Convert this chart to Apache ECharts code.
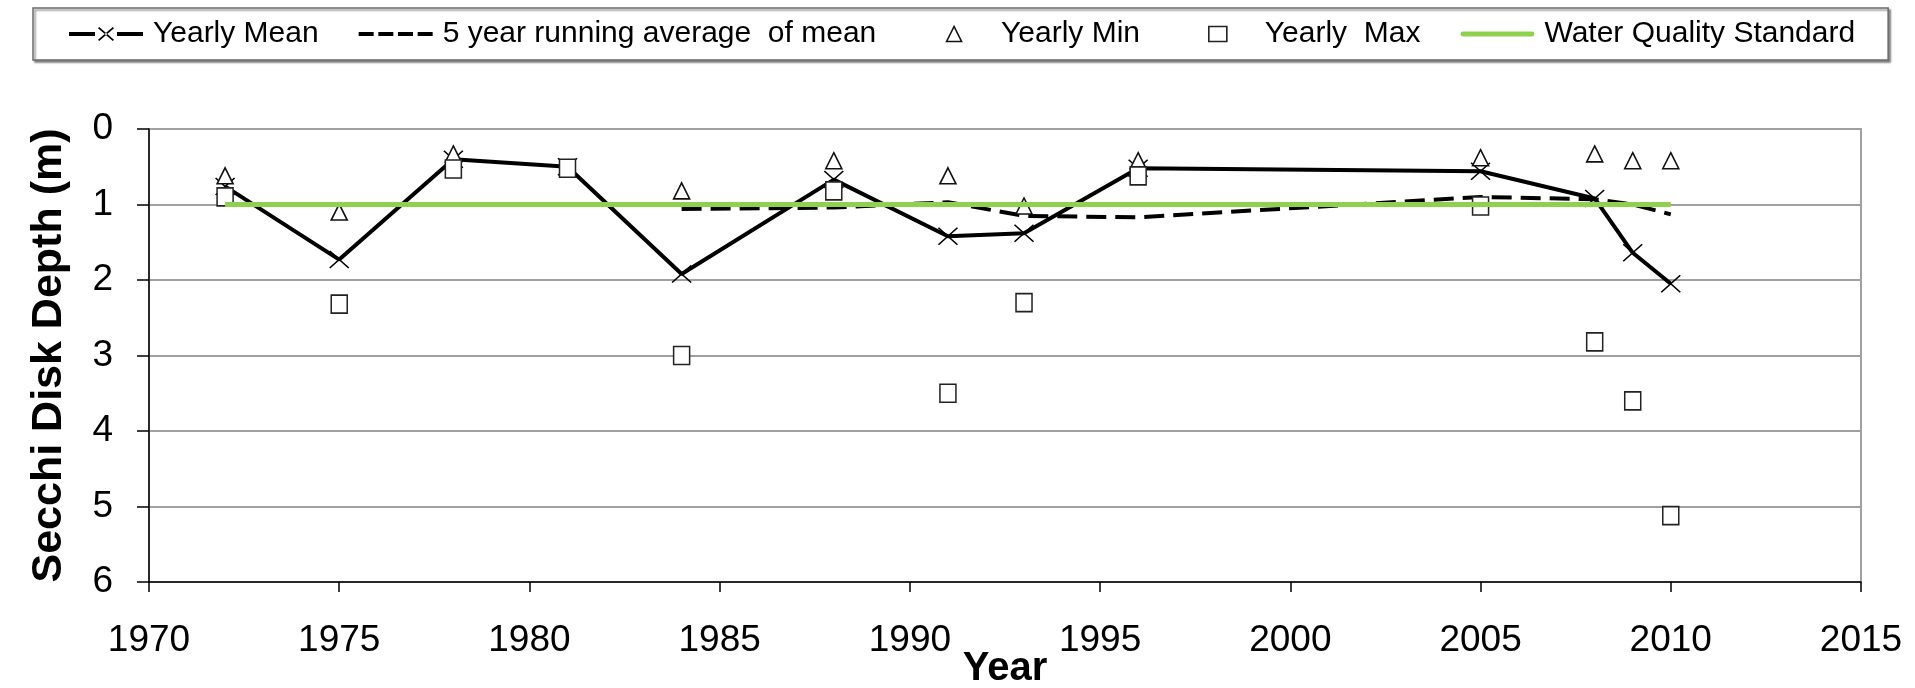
<!DOCTYPE html>
<html>
<head>
<meta charset="utf-8">
<script src="https://cdn.jsdelivr.net/npm/echarts@6/dist/echarts.min.js"></script>
<style>
html,body{margin:0;padding:0;background:#fff;}
#chart{width:1915px;height:688px;}
</style>
</head>
<body>
<div id="chart"></div>
<script>
// ---- data ----
const years = [1972, 1975, 1978, 1981, 1984, 1988, 1991, 1993, 1996, 2005, 2008, 2009, 2010];
const yearlyMean = [0.76, 1.73, 0.40, 0.50, 1.92, 0.67, 1.42, 1.38, 0.52, 0.56, 0.92, 1.64, 2.05];
const yearlyMin  = [0.62, 1.10, 0.33, null, 0.82, 0.42, 0.62, 1.02, 0.42, 0.38, 0.33, 0.42, 0.42];
const yearlyMax  = [0.90, 2.32, 0.53, 0.52, 3.00, 0.82, 3.50, 2.30, 0.62, 1.02, 2.82, 3.60, 5.12];
const runYears   = [1984, 1988, 1991, 1993, 1996, 2005, 2008, 2009, 2010];
const runAvg     = [1.06, 1.04, 0.97, 1.15, 1.17, 0.90, 0.93, 1.00, 1.13];
const stdYears   = [1972, 2010];
const stdValue   = [1, 1];
const seriesNames = ['Yearly Mean', '5 year running average  of mean', 'Yearly Min', 'Yearly  Max', 'Water Quality Standard'];
const xTicks = { min: 1970, max: 2015, step: 5 };
const yTicks = { min: 0, max: 6, step: 1 };

const pair = (xs, ys) => xs.map((x, i) => [x, ys[i]]).filter(p => p[1] !== null);

const FONT = "'Liberation Sans', Arial, sans-serif";

// legend icon shapes, each spanning a 74 x 16 box
const ICON_MEAN = 'path://M0,6H26V10H0Z M48,6H74V10H48Z M29,2.2L30.2,1L45,13.8L43.8,15Z M45,2.2L43.8,1L29,13.8L30.2,15Z M0,0L0,0 M74,16L74,16';
const ICON_DASH = 'path://M0,6H15V10H0Z M19.7,6H34.7V10H19.7Z M39.3,6H54.3V10H39.3Z M59,6H74V10H59Z M0,0L0,0 M74,16L74,16';
const ICON_MIN  = 'path://M29.5,15.5L37,0.5L44.5,15.5Z M0,0L0,0 M74,16L74,16';
const ICON_MAX  = 'path://M28,0.5H46V15.5H28Z M0,0L0,0 M74,16L74,16';
const ICON_STD  = 'path://M2,5.5H72A2.5,2.5 0 0 1 72,10.5H2A2.5,2.5 0 0 1 2,5.5Z M0,0L0,0 M74,16L74,16';

const chart = echarts.init(document.getElementById('chart'), null, { renderer: 'canvas' });

chart.setOption({
  animation: false,
  backgroundColor: '#fff',
  textStyle: { fontFamily: FONT, color: '#000' },
  legend: {
    left: 33, top: 8,
    padding: [11, 33, 11, 36],
    itemWidth: 74, itemHeight: 16, itemGap: 40,
    backgroundColor: '#fff',
    borderColor: '#6b6b6b', borderWidth: 1.5,
    shadowColor: 'rgba(0,0,0,0.45)', shadowOffsetX: 2, shadowOffsetY: 2, shadowBlur: 2,
    textStyle: { fontFamily: FONT, fontSize: 30, color: '#000', padding: [0, 0, 0, 5] },
    data: [
      { name: seriesNames[0], icon: ICON_MEAN, itemStyle: { color: '#000', borderWidth: 0 } },
      { name: seriesNames[1], icon: ICON_DASH, itemStyle: { color: '#000', borderWidth: 0 } },
      { name: seriesNames[2], icon: ICON_MIN,
        itemStyle: { color: '#fff', borderColor: '#111', borderWidth: 1.6 } },
      { name: seriesNames[3], icon: ICON_MAX,
        itemStyle: { color: '#fff', borderColor: '#222', borderWidth: 1.6 } },
      { name: seriesNames[4], icon: ICON_STD, itemStyle: { color: '#8fd14f', borderWidth: 0 } }
    ]
  },
  grid: {
    left: 149, right: 54, top: 129, bottom: 106,
    outerBoundsMode: 'none',
    containLabel: false,
    show: true, borderColor: '#a0a0a0', borderWidth: 2, backgroundColor: 'transparent'
  },
  xAxis: {
    type: 'value', min: xTicks.min, max: xTicks.max, interval: xTicks.step,
    name: 'Year', nameLocation: 'middle', nameGap: 67, nameMoveOverlap: false,
    nameTextStyle: { fontFamily: FONT, fontSize: 40, fontWeight: 'bold', color: '#000' },
    axisLine: { show: true, onZero: false, lineStyle: { color: '#000', width: 1.5 } },
    axisTick: { show: true, length: 10, lineStyle: { color: '#000', width: 1.5 } },
    axisLabel: { fontFamily: FONT, fontSize: 37, color: '#000', margin: 40, formatter: v => String(v) },
    splitLine: { show: false }
  },
  yAxis: {
    type: 'value', inverse: true, min: yTicks.min, max: yTicks.max, interval: yTicks.step,
    name: 'Secchi Disk Depth (m)', nameLocation: 'middle', nameGap: 78, nameRotate: 90, nameMoveOverlap: false,
    nameTextStyle: { fontFamily: FONT, fontSize: 43, fontWeight: 'bold', color: '#000' },
    axisLine: { show: true, onZero: false, lineStyle: { color: '#000', width: 1.5 } },
    axisTick: { show: true, length: 12, lineStyle: { color: '#000', width: 1.5 } },
    axisLabel: { fontFamily: FONT, fontSize: 37, color: '#000', margin: 36 },
    splitLine: { show: true, lineStyle: { color: '#a0a0a0', width: 2 } }
  },
  series: [
    {
      name: seriesNames[0], type: 'line', z: 2,
      data: pair(years, yearlyMean),
      symbol: 'path://M0,0L20,18M20,0L0,18', symbolSize: [19, 17],
      showAllSymbol: true,
      lineStyle: { color: '#000', width: 4 },
      itemStyle: { color: '#000', borderColor: '#000', borderWidth: 1.5 }
    },
    {
      name: seriesNames[1], type: 'line', z: 3,
      data: pair(runYears, runAvg),
      symbol: 'none',
      lineStyle: { color: '#000', width: 4, type: [20, 9] },
      itemStyle: { color: '#000' }
    },
    {
      name: seriesNames[2], type: 'scatter', z: 4,
      data: pair(years, yearlyMin),
      symbol: 'triangle', symbolSize: [16, 16],
      itemStyle: { color: '#fff', borderColor: '#111', borderWidth: 1.6, opacity: 1 }
    },
    {
      name: seriesNames[3], type: 'scatter', z: 5,
      data: pair(years, yearlyMax),
      symbol: 'rect', symbolSize: [16, 18],
      itemStyle: { color: '#fff', borderColor: '#222', borderWidth: 1.6, opacity: 1 }
    },
    {
      name: seriesNames[4], type: 'line', z: 6,
      data: pair(stdYears, stdValue),
      symbol: 'none',
      lineStyle: { color: '#8fd14f', width: 5 },
      itemStyle: { color: '#8fd14f' }
    }
  ]
});
</script>
</body>
</html>
